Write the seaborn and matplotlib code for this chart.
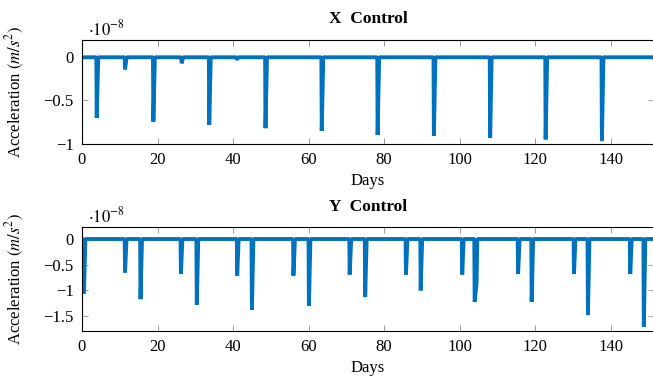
import matplotlib
matplotlib.use('Agg')
from matplotlib import pyplot as plt
from matplotlib.ticker import FuncFormatter
import pandas as pd
import seaborn as sns

# spike days / depths, in units of 1e-8 m/s^2
x_spike_days = [3.9, 11.4, 18.9, 26.4, 33.7, 41.0, 48.6, 63.5, 78.3, 93.2, 108.1, 122.8, 137.7]
x_spike_vals = [-0.70, -0.14, -0.745, -0.07, -0.78, -0.03, -0.82, -0.85, -0.90, -0.91, -0.93, -0.95, -0.97]

y_spike_days = [0.5, 11.4, 15.5, 26.2, 30.4, 41.1, 45.0, 56.0, 60.1, 70.9, 75.0,
                85.8, 89.7, 100.7, 104.0, 115.5, 119.1, 130.3, 134.0, 145.2, 148.8]
y_spike_vals = [-1.06, -0.65, -1.17, -0.68, -1.28, -0.71, -1.38, -0.71, -1.30, -0.69, -1.13,
                -0.69, -1.00, -0.69, -1.22, -0.68, -1.22, -0.68, -1.48, -0.68, -1.71]
# shoulder on the way back up after the day-104 burn
y_tail_day = 104.5
y_tail_val = -0.86

x_ticks = [0, 20, 40, 60, 80, 100, 120, 140]
x_yticks = [-1, -0.5, 0]
y_yticks = [-1.5, -1, -0.5, 0]
end_day = 152


def series(days, vals, tail=None):
    t, a = [0.0], [0.0]
    for d, v in zip(days, vals):
        t += [max(d - 0.1, 0.0), d]
        a += [0.0, v]
        if tail is not None and tail[0] > d and tail[0] - d < 1:
            t.append(tail[0])
            a.append(tail[1])
            t.append(tail[0] + 0.2)
        else:
            t.append(d + 0.4)
        a.append(0.0)
    t.append(end_day)
    a.append(0.0)
    return pd.DataFrame({'day': t, 'acc': a})


df_x = series(x_spike_days, x_spike_vals)
df_y = series(y_spike_days, y_spike_vals, (y_tail_day, y_tail_val))

sns.set_style('ticks')
plt.rcParams['font.family'] = ['Liberation Serif', 'DejaVu Serif']
plt.rcParams['mathtext.fontset'] = 'stix'
plt.rcParams['axes.unicode_minus'] = True
plt.rcParams['text.color'] = 'black'
plt.rcParams['axes.labelcolor'] = 'black'

blue = '#0072BD'
fmt = FuncFormatter(lambda v, p: ('%g' % v).replace('-', '\u2212'))

f = plt.figure(figsize=(6.53, 3.79), dpi=100)
ax1 = f.add_axes([82 / 653, 1 - 143.7 / 379, 572 / 653, 103.7 / 379])
ax2 = f.add_axes([82 / 653, 1 - 331 / 379, 572 / 653, 103.7 / 379])

for ax, df, title, ylim, yt in [(ax1, df_x, 'X  Control', (-1.0, 0.2), x_yticks),
                                (ax2, df_y, 'Y  Control', (-1.79, 0.228), y_yticks)]:
    sns.lineplot(data=df, x='day', y='acc', ax=ax, color=blue, linewidth=2.8,
                 estimator=None, sort=False, solid_joinstyle='bevel',
                 solid_capstyle='butt')
    ax.set_xlim(0, 151.5)
    ax.set_ylim(*ylim)
    ax.set_xticks(x_ticks)
    ax.set_yticks(yt)
    ax.yaxis.set_major_formatter(fmt)
    ax.tick_params(direction='in', length=4, width=0.6, color='#8c8c8c',
                   top=True, right=True, labelsize=12, pad=6, labelcolor='black')
    for s in ax.spines.values():
        s.set_linewidth(0.8)
        s.set_color('black')
    ax.set_title(title, fontsize=12.5, fontweight='bold', pad=12, color='black')
    ax.set_xlabel('Days', fontsize=12)
    ax.xaxis.set_label_coords(0.5, -0.28)
    ax.xaxis.label.set_va('top')
    ax.set_ylabel(r'Acceleration $(m/s^2)$', fontsize=12)
    ax.yaxis.set_label_coords(-0.098, 0.5)
    ax.text(0.01, 1.045, r'$\cdot 10^{-8}$', transform=ax.transAxes,
            fontsize=12, ha='left', va='baseline', color='black')

plt.savefig('out.png', dpi=100)
